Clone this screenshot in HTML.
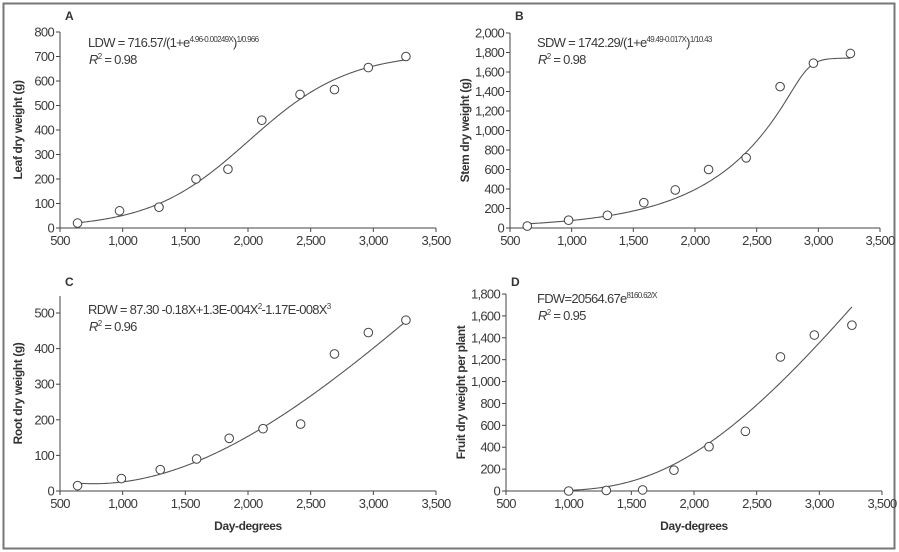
<!DOCTYPE html>
<html><head><meta charset="utf-8">
<style>
html,body{margin:0;padding:0;background:#fff;}
svg{display:block;font-family:"Liberation Sans Narrow","Liberation Sans",sans-serif;}
.t{font-size:13px;fill:#3a3a3a;letter-spacing:-0.7px;}
.ttl{font-size:12px;font-weight:bold;fill:#333;letter-spacing:-0.4px;}
</style></head>
<body>
<svg id="fig" width="899" height="552" viewBox="0 0 899 552">
<rect x="3.5" y="3.5" width="891" height="545" fill="none" stroke="#777" stroke-width="2"/>
</svg>
<script>
// ---- Data ----
const xA=[640,975,1290,1585,1840,2110,2415,2690,2960,3260];
const yA=[20,70,85,200,240,440,545,565,655,700];
const xB=[640,975,1290,1585,1840,2110,2415,2690,2960,3260];
const yB=[20,80,130,260,390,600,720,1450,1690,1790];
const xC=[640,990,1300,1590,1850,2120,2420,2690,2960,3260];
const yC=[15,35,60,90,148,175,188,385,445,480];
const xD=[1000,1300,1590,1840,2120,2410,2690,2960,3260];
const yD=[0,5,10,190,405,545,1225,1425,1515];
const xTicks=[500,1000,1500,2000,2500,3000,3500];
const yTicksA=[0,100,200,300,400,500,600,700,800];
const yTicksB=[0,200,400,600,800,1000,1200,1400,1600,1800,2000];
const yTicksC=[0,100,200,300,400,500];
const yTicksD=[0,200,400,600,800,1000,1200,1400,1600,1800];

const NS="http://www.w3.org/2000/svg";
const svg=document.getElementById('fig');
function el(tag,attrs,parent){const e=document.createElementNS(NS,tag);for(const k in attrs)e.setAttribute(k,attrs[k]);(parent||svg).appendChild(e);return e;}
function fmt(v){return v.toLocaleString('en-US');}

const panels=[
 {id:'a',L:60,R:436,B:228,T:32,top:32,ymax:800,yt:yTicksA,xs:xA,ys:yA,letter:'A',ytitle:'Leaf dry weight (g)',tx:22,ly:20,
  f:x=>716.57/Math.pow(1+Math.exp(4.96-0.00249*x),1/0.966),x0:640,x1:3260,eqX:88,eqY:47,xtitle:false,r2:'0.98'},
 {id:'b',L:510,R:880,B:228,T:33,top:33,ymax:2000,yt:yTicksB,xs:xB,ys:yB,letter:'B',ytitle:'Stem dry weight (g)',tx:469,ly:20,
  f:x=>1742.29/Math.pow(1+Math.exp(49.49-0.017*x),1/10.43),x0:640,x1:3260,eqX:537,eqY:47,xtitle:false,r2:'0.98'},
 {id:'c',L:60,R:436,B:491,T:313,top:296,ymax:500,yt:yTicksC,xs:xC,ys:yC,letter:'C',ytitle:'Root dry weight (g)',tx:22,ly:286,
  f:x=>87.30-0.18*x+1.3e-4*x*x-1.17e-8*x*x*x,x0:640,x1:3260,eqX:88,eqY:314,xtitle:true,r2:'0.96'},
 {id:'d',L:506,R:882,B:491,T:294,top:294,ymax:1800,yt:yTicksD,xs:xD,ys:yD,letter:'D',ytitle:'Fruit dry weight per plant',tx:465,ly:286,
  f:x=>20564.67*Math.exp(-8160.62/x),x0:1000,x1:3260,eqX:537,eqY:303,xtitle:true,r2:'0.95'}
];

panels.forEach(p=>{
  const g=el('g',{});
  
  
  const sx=v=>p.L+(v-500)/3000*(p.R-p.L);
  const sy=v=>p.B-v/p.ymax*(p.B-p.T);
  const ya=el('line',{x1:p.L,y1:p.B,x2:p.L,y2:p.top,stroke:'#444','stroke-width':1},g);
  
  
  const xa=el('line',{x1:p.L,y1:p.B,x2:p.R,y2:p.B,stroke:'#444','stroke-width':1},g);
  
  
  p.yt.forEach(v=>{
    el('line',{x1:p.L-4,y1:sy(v),x2:p.L,y2:sy(v),stroke:'#444'},g);
    const t=el('text',{x:p.L-6,y:sy(v)+4.5,'text-anchor':'end',class:'t'},g);
    t.textContent=fmt(v);
    
    
  });
  xTicks.forEach(v=>{
    el('line',{x1:sx(v),y1:p.B,x2:sx(v),y2:p.B+4,stroke:'#444'},g);
    const t=el('text',{x:sx(v),y:p.B+17,'text-anchor':'middle',class:'t'},g);
    t.textContent=fmt(v);
    
    
  });
  let d='';
  for(let i=0;i<=200;i++){const x=p.x0+(p.x1-p.x0)*i/200;d+=(i?'L':'M')+sx(x).toFixed(2)+','+sy(p.f(x)).toFixed(2);}
  const c=el('path',{d:d,fill:'none',stroke:'#555','stroke-width':1.1},g);
  
  
  p.xs.forEach((x,i)=>{
    const m=el('circle',{cx:sx(x),cy:sy(p.ys[i]),r:4.3,fill:'#fff',stroke:'#444','stroke-width':1},g);
    
    
  });
  const lt=el('text',{x:p.L+5,y:p.ly,class:'ttl'},g);
  lt.textContent=p.letter;
  
  
  const yt=el('text',{transform:`translate(${p.tx},${(p.B+p.top)/2}) rotate(-90)`,'text-anchor':'middle',class:'ttl'},g);
  yt.textContent=p.ytitle;
  
  
  if(p.xtitle){
    const xt=el('text',{x:(p.L+p.R)/2,y:530,'text-anchor':'middle',class:'ttl'},g);
    xt.textContent='Day-degrees';
    
    
  }
  const eq=el('text',{x:p.eqX,y:p.eqY,class:'t'},g);
  
  
  if(p.id==='a'){
    eq.innerHTML='LDW = 716.57/(1+e<tspan dy="-5" font-size="8">4.96-0.00249X</tspan><tspan dy="5">)</tspan><tspan dy="-5" font-size="8">1/0.966</tspan>';
  } else if(p.id==='b'){
    eq.innerHTML='SDW = 1742.29/(1+e<tspan dy="-5" font-size="8">49.49-0.017X</tspan><tspan dy="5">)</tspan><tspan dy="-5" font-size="8">1/10.43</tspan>';
  } else if(p.id==='c'){
    eq.innerHTML='RDW = 87.30 -0.18X+1.3E-004X<tspan dy="-5" font-size="8">2</tspan><tspan dy="5">-1.17E-008X</tspan><tspan dy="-5" font-size="8">3</tspan>';
  } else {
    eq.innerHTML='FDW=20564.67e<tspan dy="-5" font-size="8">8160.62/X</tspan>';
  }
  const r=el('text',{x:p.eqX+1,y:p.eqY+17,class:'t'},g);
  r.innerHTML=`<tspan font-style="italic">R</tspan><tspan dy="-5" font-size="8">2</tspan><tspan dy="5"> = ${p.r2}</tspan>`;
  
  
});
</script>
</body></html>
